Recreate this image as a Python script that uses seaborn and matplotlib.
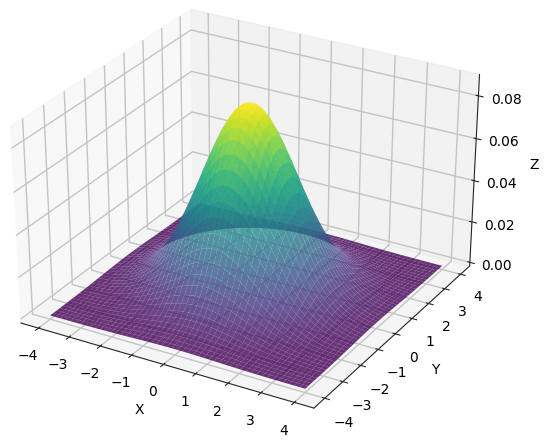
#3D surface of a bell shaped density, viridis colours
import matplotlib
matplotlib.use("Agg")
import matplotlib.pyplot as plt
import numpy as np
import seaborn as sns

#Grid positions along X and Y
grid_values = [-4.0, -3.837, -3.673, -3.51, -3.347, -3.184, -3.02, -2.857, -2.694, -2.531,
               -2.367, -2.204, -2.041, -1.878, -1.714, -1.551, -1.388, -1.224, -1.061, -0.898,
               -0.735, -0.571, -0.408, -0.245, -0.082, 0.082, 0.245, 0.408, 0.571, 0.735,
               0.898, 1.061, 1.224, 1.388, 1.551, 1.714, 1.878, 2.041, 2.204, 2.367,
               2.531, 2.694, 2.857, 3.02, 3.184, 3.347, 3.51, 3.673, 3.837, 4.0]
#Estimated profile of the bell, height is the product of the two axes profiles
profile_values = [0.0035, 0.0050, 0.0070, 0.0097, 0.0132, 0.0178, 0.0236, 0.0308, 0.0396, 0.0502,
                  0.0627, 0.0771, 0.0935, 0.1117, 0.1314, 0.1524, 0.1741, 0.1960, 0.2174, 0.2376,
                  0.2559, 0.2715, 0.2838, 0.2924, 0.2967, 0.2967, 0.2924, 0.2838, 0.2715, 0.2559,
                  0.2376, 0.2174, 0.1960, 0.1741, 0.1524, 0.1314, 0.1117, 0.0935, 0.0771, 0.0627,
                  0.0502, 0.0396, 0.0308, 0.0236, 0.0178, 0.0132, 0.0097, 0.0070, 0.0050, 0.0035]
axis_ticks = [-4, -3, -2, -1, 0, 1, 2, 3, 4]
z_ticks = [0.00, 0.02, 0.04, 0.06, 0.08]

sns.set_style("white")
plt.rcParams["font.family"] = ["DejaVu Sans"]

X, Y = np.meshgrid(grid_values, grid_values)
Z = np.outer(profile_values, profile_values)

fig = plt.figure(figsize=(5.5, 4.4), dpi=100)
ax = fig.add_axes([-0.034, 0.006, 0.949, 1.0545], projection="3d")
#the reference is a bit wider than a square box, so keep the box as given
ax.apply_aspect = lambda position=None: None
ax.plot_surface(X, Y, Z, cmap=sns.color_palette("viridis", as_cmap=True), alpha=0.8,
                rstride=1, cstride=1, linewidth=0, antialiased=True)

ax.set_xticks(axis_ticks)
ax.set_yticks(axis_ticks)
ax.set_zticks(z_ticks)
ax.set_xlabel("X", fontsize=10, color="black")
ax.set_ylabel("Y", fontsize=10, color="black")
ax.set_zlabel("Z", fontsize=10, color="black")
ax.tick_params(labelsize=10, labelcolor="black")
for axis in (ax.xaxis, ax.yaxis, ax.zaxis):
    axis._axinfo["grid"]["color"] = "#c4c4c4"
    axis._axinfo["grid"]["linewidth"] = 1.0

fig.savefig("out.png", dpi=100)
